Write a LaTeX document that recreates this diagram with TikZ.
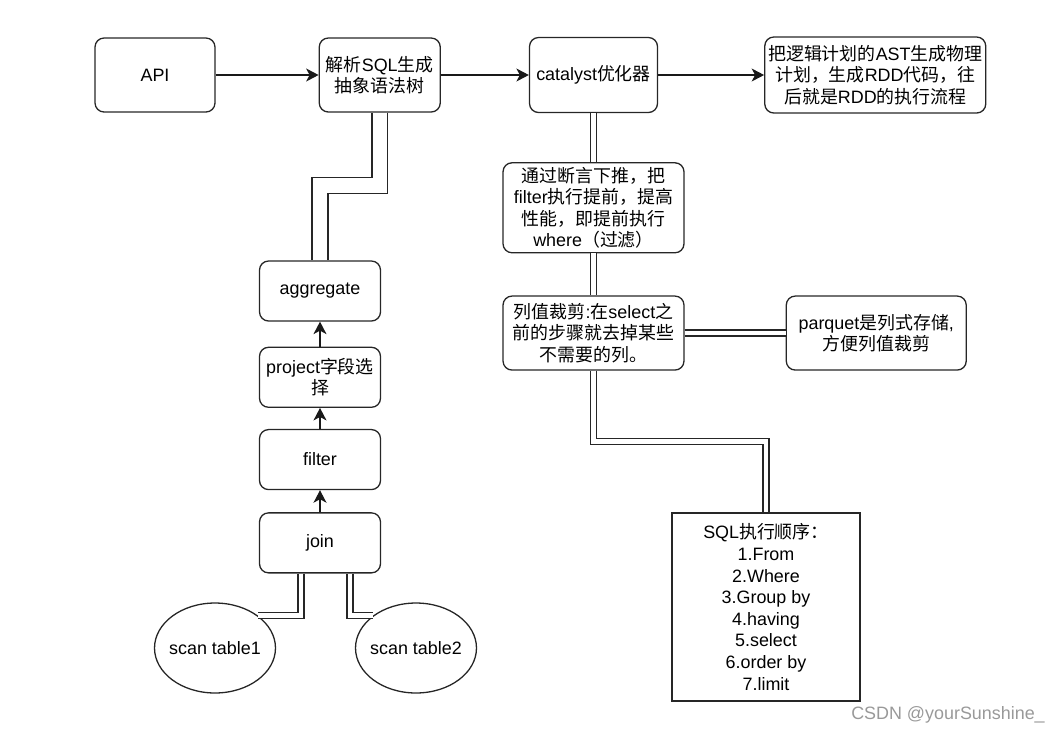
\documentclass[tikz,border=0pt]{standalone}
\usepackage{fontspec}
\setmainfont{Liberation Sans}
\newfontfamily\cjkfont{Noto Sans CJK SC}
\newcommand\zh[1]{{\cjkfont #1}}
\usepackage{xcolor}
\usetikzlibrary{shapes,arrows,positioning,arrows.meta,shapes.geometric}

\tikzset{
    box/.style={rectangle, draw=black!85, line width=0.74pt, rounded corners=0.18cm, align=center, inner sep=1pt},
    oval/.style={ellipse, draw=black!85, line width=0.74pt, minimum width=2.42cm, minimum height=1.8cm, inner xsep=-0.07cm, inner ysep=0pt},
    flow/.style={-{Stealth[length=0.25cm, width=0.26cm, inset=0.07cm]}, line width=0.74pt, draw=black!90},
    link/.style={draw=black!85, line width=0.74pt, double, double distance=0.094cm},
    widelink/.style={link, double distance=0.29cm}
}

\begin{document}
\begin{tikzpicture}[x=0.02cm, y=-0.02cm, font=\fontsize{10.2}{12.3}\selectfont]
    \useasboundingbox (0,0) rectangle (1059,735);

    % Top row
    \node[box, minimum width=2.4cm, minimum height=1.48cm] (api) at (155,75) {API};
    \node[box, minimum width=2.42cm, minimum height=1.48cm, right=2.06cm of api] (parse) {\zh{解析}SQL\zh{生成}\\\zh{抽象语法树}};
    \node[box, minimum width=2.56cm, minimum height=1.5cm, right=1.76cm of parse] (catalyst) {catalyst\zh{优化器}};
    \node[box, minimum width=4.42cm, minimum height=1.52cm, right=2.12cm of catalyst] (physical) {\zh{把逻辑计划的}AST\zh{生成物理}\\\zh{计划，生成}RDD\zh{代码，往}\\\zh{后就是}RDD\zh{的执行流程}};

    % Optimizer notes
    \node[box, minimum width=3.62cm, minimum height=1.8cm, below=0.98cm of catalyst] (pushdown) {\zh{通过断言下推，把}\\filter\zh{执行提前，提高}\\\zh{性能，即提前执行}\\where\zh{（过滤）}};
    \node[box, minimum width=3.62cm, minimum height=1.48cm, below=0.84cm of pushdown] (pruning) {\zh{列值裁剪}:\zh{在}select\zh{之}\\\zh{前的步骤就去掉某些}\\\zh{不需要的列。}};
    \node[box, minimum width=3.6cm, minimum height=1.48cm, right=2.02cm of pruning] (parquet) {parquet\zh{是列式存储},\\\zh{方便列值裁剪}};
    \node[rectangle, draw=black!85, line width=0.74pt, align=center, minimum width=3.76cm, minimum height=3.76cm] (order) at (766,607) {SQL\zh{执行顺序：}\\1.From\\2.Where\\3.Group by\\4.having\\5.select\\6.order by\\7.limit};

    % Logical plan stack
    \node[box, minimum width=2.42cm, minimum height=1.2cm] (aggregate) at (320,291) {aggregate};
    \node[box, minimum width=2.42cm, minimum height=1.2cm, below=0.5cm of aggregate] (project) {project\zh{字段选}\\\zh{择}};
    \node[box, minimum width=2.42cm, minimum height=1.2cm, below=0.42cm of project] (filter) {filter};
    \node[box, minimum width=2.42cm, minimum height=1.2cm, below=0.44cm of filter] (join) {join};
    \node[oval] (scan1) at (215,648) {scan table1};
    \node[oval] (scan2) at (416,648) {scan table2};

    \node[text=black!40] (mark) at (948,715) {CSDN @yourSunshine\_};

    % Connectors
    \draw[flow] (api) -- (parse);
    \draw[flow] (parse) -- (catalyst);
    \draw[flow] (catalyst) -- (physical);
    \draw[flow] (join) -- (filter);
    \draw[flow] (filter) -- (project);
    \draw[flow] (project) -- (aggregate);

    \draw[widelink] (parse.south) -- ++(0,73) -| (aggregate.north);
    \draw[link] (catalyst.south) -- (pushdown.north);
    \draw[link] (pushdown.south) -- (pruning.north);
    \draw[link] (pruning.east) -- (parquet.west);
    \draw[link] (pruning.south) -- ++(0,71) -| (order.north);
    \draw[link] ([xshift=-0.38cm]join.south) |- (scan1.37);
    \draw[link] ([xshift=0.6cm]join.south) |- (scan2.143);
\end{tikzpicture}
\end{document}
